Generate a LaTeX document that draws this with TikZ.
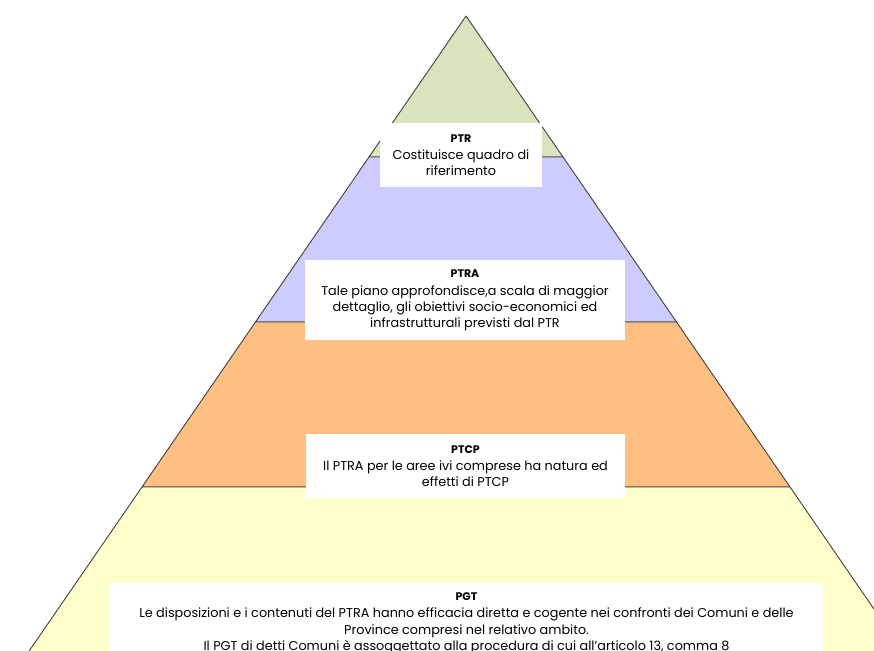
\documentclass[tikz,border=0pt]{standalone}
\usepackage{fontspec}
\setmainfont{Poppins}
\definecolor{bandgreen}{HTML}{D7E4BD}
\definecolor{bandviolet}{HTML}{CCCCFF}
\definecolor{bandorange}{HTML}{FFBF80}
\definecolor{bandyellow}{HTML}{FFFFCC}
\definecolor{edge}{HTML}{404040}
\newcommand{\ttl}[1]{{\fontsize{11}{16}\selectfont\bfseries #1}}
\begin{document}
\begin{tikzpicture}[x=1pt,y=-1pt,
  band/.style={draw=edge,line width=0.9pt,line join=round},
  label/.style={fill=white,inner sep=0pt,align=center,
    font=\fontsize{12.8}{16}\selectfont}]
\useasboundingbox (0,0) rectangle (874,650);
\clip (0,0) rectangle (874,650);
% pyramid bands, top to bottom
\path[band,fill=bandgreen]  (466,16) -- (563,157) -- (369,157) -- cycle;
\path[band,fill=bandviolet] (369,157) -- (563,157) -- (676.5,322) -- (255.5,322) -- cycle;
\path[band,fill=bandorange] (255.5,322) -- (676.5,322) -- (790,487) -- (142,487) -- cycle;
\path[band,fill=bandyellow] (142,487) -- (790,487) -- (936.6,700) -- (-4.6,700) -- cycle;
% text boxes
\node[label,minimum width=162pt,minimum height=64pt] (ptr) at (461,155)
  {\ttl{PTR}\\[1.5pt]Costituisce quadro di\\riferimento};
\node[label,minimum width=320pt,minimum height=80pt] (ptra) at (465,300)
  {\ttl{PTRA}\\[2pt]Tale piano approfondisce,a scala di maggior\\dettaglio, gli obiettivi socio-economici ed\\infrastrutturali previsti dal PTR};
\node[label,minimum width=319pt,minimum height=64pt] (ptcp) at (465.5,466)
  {\ttl{PTCP}\\[1.5pt]Il PTRA per le aree ivi comprese ha natura ed\\effetti di PTCP};
\fill[white] (110,583) rectangle (823,700);
\node[label,anchor=north,font=\fontsize{12.8}{16.6}\selectfont] (pgt) at (466.5,592)
  {\ttl{PGT}\\[1pt]Le disposizioni e i contenuti del PTRA hanno efficacia diretta e cogente nei confronti dei Comuni e delle\\Province compresi nel relativo ambito.\\Il PGT di detti Comuni è assoggettato alla procedura di cui all'articolo 13, comma 8};
\end{tikzpicture}
\end{document}
